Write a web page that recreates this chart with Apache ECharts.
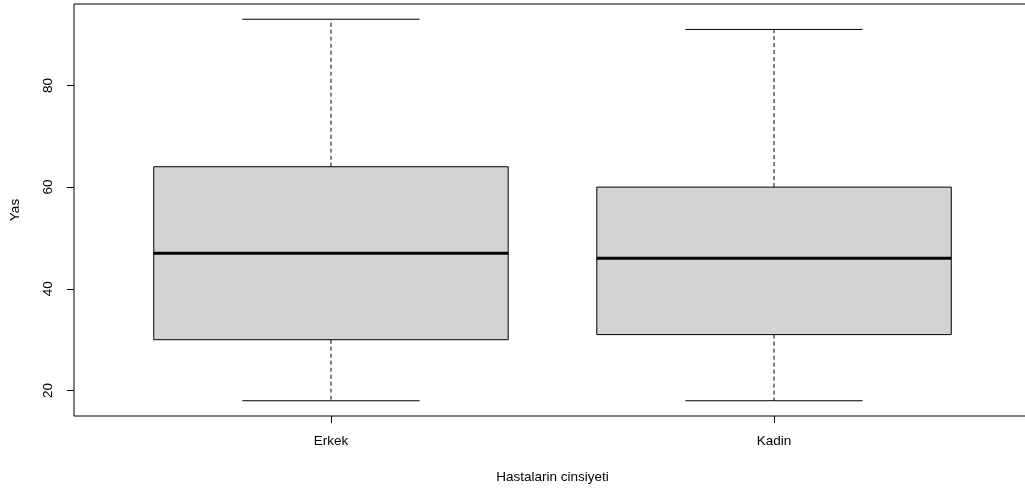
<!DOCTYPE html>
<html>
<head>
<meta charset="utf-8">
<script src="https://cdn.jsdelivr.net/npm/echarts@6/dist/echarts.min.js"></script>
<style>
html,body{margin:0;padding:0;background:#fff;}
#chart{width:1025px;height:488px;}
</style>
</head>
<body>
<div id="chart"></div>
<script>
var categories = ['Erkek', 'Kadin'];
var mins = [18, 18];
var q1s = [30, 31];
var medians = [47, 46];
var q3s = [64, 60];
var maxs = [93, 91];
var yTicks = [20, 40, 60, 80];
var xTitle = 'Hastalarin cinsiyeti';
var yTitle = 'Yas';

var data = categories.map(function (c, i) {
  return [i + 1, mins[i], q1s[i], medians[i], q3s[i], maxs[i]];
});

var FONT = "'Liberation Sans', Arial, sans-serif";
var FS = 13.5;
var chart = echarts.init(document.getElementById('chart'), null, {renderer: 'canvas'});

function renderItem(params, api) {
  var x = api.value(0);
  var mn = api.value(1), q1 = api.value(2), md = api.value(3), q3 = api.value(4), mx = api.value(5);
  var hw = 0.4, cw = 0.2;
  var pTL = api.coord([x - hw, q3]);
  var pBR = api.coord([x + hw, q1]);
  var pMax = api.coord([x, mx]);
  var pMin = api.coord([x, mn]);
  var pQ3 = api.coord([x, q3]);
  var pQ1 = api.coord([x, q1]);
  var cL = api.coord([x - cw, mx])[0];
  var cR = api.coord([x + cw, mx])[0];
  var mL = api.coord([x - hw, md]);
  var mR = api.coord([x + hw, md]);
  var dash = {stroke: '#000', lineWidth: 1, lineDash: [4, 3]};
  var solid = {stroke: '#000', lineWidth: 1};
  return {
    type: 'group',
    children: [
      {type: 'line', shape: {x1: pQ3[0], y1: pQ3[1], x2: pMax[0], y2: pMax[1]}, style: dash},
      {type: 'line', shape: {x1: pQ1[0], y1: pQ1[1], x2: pMin[0], y2: pMin[1]}, style: dash},
      {type: 'line', shape: {x1: cL, y1: pMax[1], x2: cR, y2: pMax[1]}, style: solid},
      {type: 'line', shape: {x1: cL, y1: pMin[1], x2: cR, y2: pMin[1]}, style: solid},
      {type: 'rect', shape: {x: pTL[0], y: pTL[1], width: pBR[0] - pTL[0], height: pBR[1] - pTL[1]},
        style: {fill: '#d3d3d3', stroke: '#000', lineWidth: 1}},
      {type: 'line', shape: {x1: mL[0], y1: mL[1], x2: mR[0], y2: mR[1]}, style: {stroke: '#000', lineWidth: 3}}
    ]
  };
}

chart.setOption({
  animation: false,
  backgroundColor: '#fff',
  grid: {left: 74, right: -6, top: 4, bottom: 72, containLabel: false, outerBoundsMode: 'none',
    show: true, borderColor: '#000', borderWidth: 1, backgroundColor: 'transparent'},
  xAxis: {
    type: 'value', min: 0.42, max: 2.58,
    name: xTitle, nameLocation: 'middle', nameGap: 54,
    nameTextStyle: {color: '#000', fontSize: FS, fontFamily: FONT},
    axisLine: {show: false},
    splitLine: {show: false},
    axisTick: {show: true, inside: false, length: 7, lineStyle: {color: '#000'}, customValues: [1, 2]},
    axisLabel: {show: true, margin: 18, color: '#000', fontSize: FS, fontFamily: FONT, customValues: [1, 2],
      formatter: function (v) { return categories[Math.round(v) - 1]; }}
  },
  yAxis: {
    type: 'value', min: 15, max: 96,
    name: yTitle, nameLocation: 'middle', nameGap: 52, nameRotate: 90,
    nameTextStyle: {color: '#000', fontSize: FS, fontFamily: FONT},
    axisLine: {show: false},
    splitLine: {show: false},
    axisTick: {show: true, inside: false, length: 7, lineStyle: {color: '#000'}, customValues: yTicks},
    axisLabel: {show: true, rotate: 90, margin: 19, color: '#000', fontSize: FS, fontFamily: FONT, customValues: yTicks}
  },
  series: [{
    type: 'custom',
    renderItem: renderItem,
    encode: {x: 0, y: [1, 2, 3, 4, 5]},
    data: data,
    clip: false
  }]
});
</script>
</body>
</html>
